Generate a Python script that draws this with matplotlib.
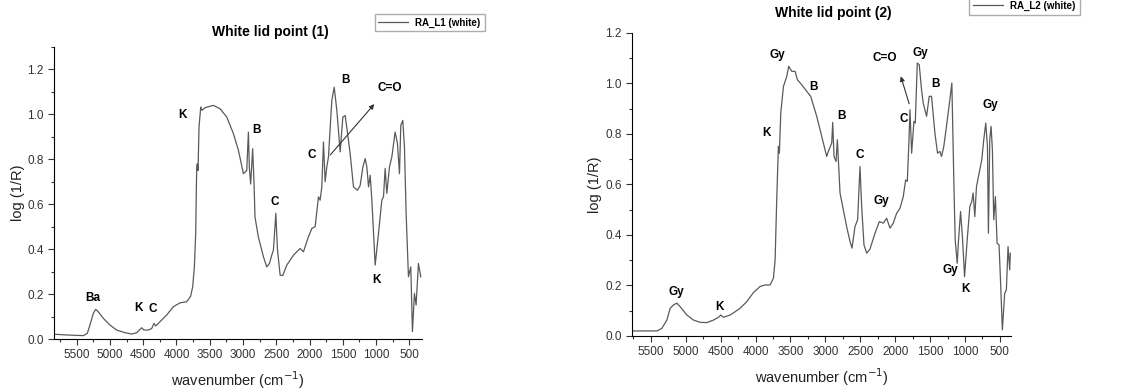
import numpy as np
import matplotlib.pyplot as plt
from matplotlib.ticker import MultipleLocator

plt.rcParams['font.family'] = ['Liberation Sans', 'DejaVu Sans']

# spectrum RA_L1 (white lid, point 1)
wn1 = [5826, 5650, 5400, 5340, 5300, 5250, 5214, 5174, 5099, 4999, 4900, 4773, 4673, 4598,
       4548, 4523, 4488, 4422, 4372, 4337, 4312, 4247, 4147, 4046, 3946, 3846, 3786, 3756,
       3731, 3711, 3696, 3686, 3676, 3661, 3635, 3615, 3570, 3445, 3345, 3244, 3144, 3069,
       2994, 2944, 2919, 2905, 2885, 2855, 2834, 2820, 2770, 2693, 2643, 2603, 2568, 2543,
       2507, 2482, 2442, 2402, 2342, 2242, 2142, 2092, 2017, 1966, 1916, 1866, 1841, 1816,
       1791, 1766, 1741, 1716, 1666, 1630, 1590, 1540, 1500, 1465, 1415, 1390, 1340, 1280,
       1239, 1199, 1164, 1139, 1114, 1089, 1064, 1014, 964, 914, 889, 864, 839, 799, 764,
       714, 679, 649, 629, 599, 574, 549, 514, 479, 454, 424, 399, 364, 329]
ab1 = [0.021, 0.018, 0.015, 0.025, 0.062, 0.114, 0.132, 0.121, 0.092, 0.062, 0.040, 0.028,
       0.022, 0.028, 0.043, 0.050, 0.040, 0.040, 0.047, 0.070, 0.058, 0.077, 0.107, 0.144,
       0.161, 0.166, 0.191, 0.233, 0.321, 0.470, 0.766, 0.780, 0.750, 0.944, 1.033, 1.018,
       1.030, 1.040, 1.025, 0.988, 0.914, 0.840, 0.736, 0.750, 0.921, 0.764, 0.690, 0.847,
       0.690, 0.543, 0.455, 0.366, 0.321, 0.336, 0.373, 0.396, 0.559, 0.396, 0.284, 0.283,
       0.329, 0.373, 0.403, 0.388, 0.455, 0.492, 0.500, 0.633, 0.618, 0.677, 0.877, 0.700,
       0.766, 0.810, 1.060, 1.121, 1.018, 0.833, 0.988, 0.995, 0.884, 0.825, 0.677, 0.662,
       0.684, 0.766, 0.803, 0.766, 0.677, 0.729, 0.618, 0.329, 0.470, 0.618, 0.633, 0.759,
       0.648, 0.766, 0.810, 0.921, 0.870, 0.736, 0.951, 0.973, 0.855, 0.559, 0.277, 0.321,
       0.033, 0.203, 0.151, 0.336, 0.277]

# spectrum RA_L2 (white lid, point 2)
wn2 = [5758, 5557, 5414, 5343, 5271, 5223, 5176, 5128, 5080, 4985, 4889, 4794, 4698, 4603,
       4531, 4498, 4460, 4365, 4293, 4221, 4126, 4031, 3935, 3864, 3792, 3744, 3720, 3697,
       3673, 3659, 3639, 3601, 3577, 3553, 3525, 3482, 3434, 3401, 3339, 3267, 3210, 3124,
       3052, 2981, 2957, 2909, 2895, 2876, 2847, 2828, 2809, 2790, 2743, 2695, 2647, 2618,
       2576, 2538, 2504, 2480, 2447, 2408, 2361, 2289, 2227, 2170, 2122, 2074, 2027, 1979,
       1931, 1884, 1850, 1826, 1802, 1788, 1764, 1731, 1712, 1683, 1655, 1622, 1598, 1550,
       1512, 1479, 1431, 1393, 1360, 1336, 1303, 1265, 1216, 1188, 1159, 1140, 1111, 1092,
       1063, 1034, 1006, 968, 930, 902, 883, 859, 835, 797, 759, 731, 702, 678, 664, 645,
       626, 607, 588, 564, 540, 512, 493, 464, 431, 407, 383, 359, 350]
ab2 = [0.020, 0.020, 0.020, 0.030, 0.063, 0.110, 0.123, 0.130, 0.116, 0.083, 0.063, 0.054,
       0.053, 0.063, 0.074, 0.083, 0.074, 0.083, 0.096, 0.110, 0.136, 0.172, 0.196, 0.202,
       0.202, 0.229, 0.301, 0.539, 0.751, 0.724, 0.883, 0.988, 1.008, 1.028, 1.068, 1.048,
       1.048, 1.015, 0.995, 0.969, 0.949, 0.870, 0.790, 0.711, 0.731, 0.764, 0.846, 0.711,
       0.691, 0.777, 0.671, 0.566, 0.500, 0.433, 0.374, 0.348, 0.433, 0.460, 0.671, 0.513,
       0.361, 0.328, 0.344, 0.407, 0.453, 0.447, 0.466, 0.427, 0.447, 0.486, 0.506, 0.552,
       0.618, 0.612, 0.777, 0.896, 0.724, 0.850, 0.843, 1.081, 1.074, 0.975, 0.922, 0.870,
       0.949, 0.949, 0.804, 0.724, 0.731, 0.711, 0.751, 0.830, 0.936, 1.002, 0.605, 0.381,
       0.288, 0.381, 0.493, 0.381, 0.235, 0.381, 0.513, 0.533, 0.566, 0.473, 0.592, 0.645,
       0.698, 0.777, 0.843, 0.751, 0.407, 0.777, 0.830, 0.737, 0.460, 0.552, 0.367, 0.361,
       0.235, 0.024, 0.169, 0.182, 0.354, 0.262, 0.328]

# band assignments: (label, wavenumber, height)
labels1 = [('Ba', 5250, 0.181), ('K', 4573, 0.136), ('C', 4362, 0.132), ('K', 3906, 0.999),
           ('B', 2793, 0.932), ('C', 2518, 0.61), ('C', 1966, 0.818), ('B', 1465, 1.154),
           ('C=O', 798, 1.117), ('K', 999, 0.262)]
labels2 = [('Gy', 5142, 0.176), ('K', 4517, 0.114), ('K', 3840, 0.803), ('Gy', 3682, 1.114),
           ('B', 3172, 0.985), ('B', 2776, 0.87), ('C', 2504, 0.718), ('Gy', 2194, 0.535),
           ('C=O', 2156, 1.101), ('C', 1874, 0.859), ('Gy', 1645, 1.121), ('B', 1421, 0.998),
           ('Gy', 643, 0.916), ('Gy', 1216, 0.262), ('K', 987, 0.186)]

fig = plt.figure(figsize=(11.23, 3.92), dpi=100)
ax1 = fig.add_axes([0.0481, 0.1352, 0.3277, 0.745])
ax2 = fig.add_axes([0.5628, 0.1429, 0.3375, 0.773])

line_col = '#5a5a5a'


def style_axis(ax, xlim, ylim):
    ax.set_xlim(*xlim)
    ax.set_ylim(*ylim)
    ax.spines['top'].set_visible(False)
    ax.spines['right'].set_visible(False)
    ax.xaxis.set_major_locator(MultipleLocator(500))
    ax.xaxis.set_minor_locator(MultipleLocator(250))
    ax.yaxis.set_major_locator(MultipleLocator(0.2))
    ax.yaxis.set_minor_locator(MultipleLocator(0.1))
    ax.tick_params(which='major', direction='out', length=4, width=0.8, labelsize=8.5, colors='#333333')
    ax.tick_params(which='minor', direction='out', length=2.5, width=0.8, colors='#333333')
    ax.set_xticks([t for t in range(500, 6000, 500) if xlim[1] <= t <= xlim[0]])
    ax.set_yticks(np.arange(0, ylim[1] + 0.001, 0.2))
    ax.yaxis.set_major_formatter(plt.FormatStrFormatter('%.1f'))
    ax.set_xlabel('wavenumber (cm$^{-1}$)', fontsize=10.5, color='#222222')
    ax.set_ylabel('log (1/R)', fontsize=10.5, color='#222222')


ax1.plot(wn1, ab1, color=line_col, lw=0.9, label='RA_L1 (white)')
style_axis(ax1, (5840, 310), (0, 1.3))
for txt, x, y in labels1:
    ax1.text(x, y, txt, fontsize=8.5, fontweight='bold', ha='center', va='center')
ax1.annotate('', xy=(1000, 1.055), xytext=(1716, 0.81),
             arrowprops=dict(arrowstyle='-|>', color='#333333', lw=0.8, mutation_scale=7))
ax1.legend(loc='center', bbox_to_anchor=(0.3825, 0.9426), bbox_transform=fig.transFigure,
           fancybox=False, edgecolor='#999999', handlelength=3,
           prop={'weight': 'bold', 'size': 7})
fig.text(270 / 1123, 1 - 32 / 392, 'White lid point (1)', fontsize=10, fontweight='bold',
         ha='center', va='center')

ax2.plot(wn2, ab2, color=line_col, lw=0.9, label='RA_L2 (white)')
style_axis(ax2, (5770, 340), (0, 1.2))
for txt, x, y in labels2:
    ax2.text(x, y, txt, fontsize=8.5, fontweight='bold', ha='center', va='center')
ax2.annotate('', xy=(1931, 1.039), xytext=(1788, 0.909),
             arrowprops=dict(arrowstyle='-|>', color='#333333', lw=0.8, mutation_scale=7))
ax2.legend(loc='center', bbox_to_anchor=(0.9123, 0.985), bbox_transform=fig.transFigure,
           fancybox=False, edgecolor='#999999', handlelength=3,
           prop={'weight': 'bold', 'size': 7})
fig.text(833 / 1123, 1 - 13 / 392, 'White lid point (2)', fontsize=10, fontweight='bold',
         ha='center', va='center')

ax1.xaxis.set_label_coords(0.5, -0.105)
ax1.yaxis.set_label_coords(-0.08, 0.5)
ax2.xaxis.set_label_coords(0.5, -0.1)
ax2.yaxis.set_label_coords(-0.08, 0.5)

fig.savefig('out.png', dpi=100)
